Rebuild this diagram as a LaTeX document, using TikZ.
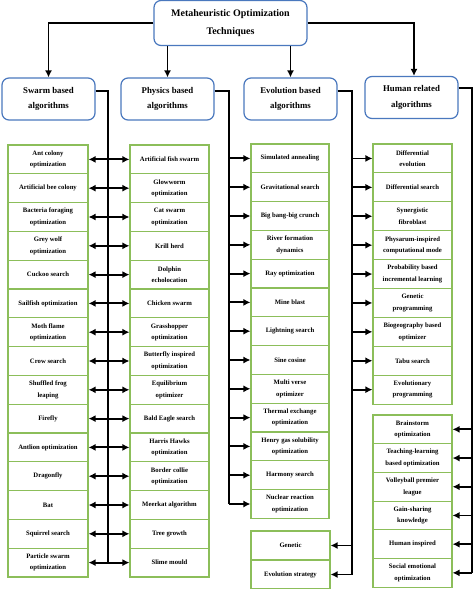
\documentclass[tikz,border=0pt]{standalone}
\usepackage{fontspec}
\setmainfont{Liberation Serif}
\usetikzlibrary{arrows.meta,calc}
\definecolor{catblue}{RGB}{74,120,190}
\definecolor{itemgreen}{RGB}{140,190,90}
\tikzset{
  catbox/.style={draw=catblue, line width=1.2pt, rounded corners=7pt, fill=white,
    minimum width=93pt, minimum height=42pt, align=center, inner sep=0pt,
    font=\fontsize{8.8}{15.5}\selectfont\bfseries},
  topbox/.style={draw=catblue, line width=1.2pt, rounded corners=7pt, fill=white,
    minimum width=153pt, minimum height=45pt, align=center, inner sep=0pt,
    font=\fontsize{10}{18}\selectfont\bfseries},
  itembox/.style={draw=itemgreen, line width=1.1pt, fill=white,
    minimum width=80pt, minimum height=28.8pt, align=center, inner sep=0pt,
    font=\fontsize{6.7}{11.5}\selectfont\bfseries},
  link/.style={line width=1.9pt, black},
  arr/.style={link, -{Latex[length=7pt,width=7pt]}},
  dbl/.style={link, {Latex[length=7pt,width=7pt]}-{Latex[length=7pt,width=7pt]}},
}
\begin{document}
\begin{tikzpicture}[x=1pt,y=-1pt]
\useasboundingbox (0,0) rectangle (474,589);
\fill[white] (0,0) rectangle (474,589);

% top and category boxes
\node[topbox] (top) at (230.5,23) {Metaheuristic Optimization\\Techniques};
\node[catbox] (sw) at (48.5,99) {Swarm based\\algorithms};
\node[catbox] (ph) at (167.5,99) {Physics based\\algorithms};
\node[catbox] (ev) at (290.5,99) {Evolution based\\algorithms};
\node[catbox] (hu) at (411.5,97.5) {Human related\\algorithms};

% swarm column
\foreach \t [count=\i] in {{Ant colony\\optimization},{Artificial bee colony},{Bacteria foraging\\optimization},{Grey wolf\\optimization},{Cuckoo search},{Sailfish optimization},{Moth flame\\optimization},{Crow search},{Shuffled frog\\leaping},{Firefly},{Antlion optimization},{Dragonfly},{Bat},{Squirrel search},{Particle swarm\\optimization}}
  \node[itembox] (s\i) at (48,{159.4+(\i-1)*28.8}) {\t};

% physics column
\foreach \t [count=\i] in {{Artificial fish swarm},{Glowworm\\optimization},{Cat swarm\\optimization},{Krill herd},{Dolphin\\echolocation},{Chicken swarm},{Grasshopper\\optimization},{Butterfly inspired\\optimization},{Equilibrium\\optimizer},{Bald Eagle search},{Harris Hawks\\optimization},{Border collie\\optimization},{Meerkat algorithm},{Tree growth},{Slime mould}}
  \node[itembox, minimum width=79pt] (p\i) at (169.5,{159.4+(\i-1)*28.8}) {\t};

% evolution column (physics-fed)
\foreach \t [count=\i] in {{Simulated annealing},{Gravitational search},{Big bang-big crunch},{River formation\\dynamics},{Ray optimization},{Mine blast},{Lightning search},{Sine cosine},{Multi verse\\optimizer},{Thermal exchange\\optimization},{Henry gas solubility\\optimization},{Harmony search},{Nuclear reaction\\optimization}}
  \node[itembox, minimum width=78pt] (e\i) at (290,{158.4+(\i-1)*28.8}) {\t};

% genetic / evolution strategy
\node[itembox, minimum width=79pt, minimum height=29pt] (g1) at (290.5,545.5) {Genetic};
\node[itembox, minimum width=79pt, minimum height=29pt] (g2) at (290.5,574.5) {Evolution strategy};

% human top column
\foreach \t [count=\i] in {{Differential\\evolution},{Differential search},{Synergistic\\fibroblast},{Physarum-inspired\\computational mode},{Probability based\\incremental learning},{Genetic\\programming},{Biogeography based\\optimizer},{Tabu search},{Evolutionary\\programming}}
  \node[itembox, minimum width=79pt, minimum height=28.9pt] (h\i) at (412.5,{158.45+(\i-1)*28.9}) {\t};

% human bottom column
\foreach \t [count=\i] in {{Brainstorm\\optimization},{Teaching-learning\\based optimization},{Volleyball premier\\league},{Gain-sharing\\knowledge},{Human inspired},{Social emotional\\optimization}}
  \node[itembox, minimum width=79pt, minimum height=28.7pt] (b\i) at (412.5,{429.35+(\i-1)*28.7}) {\t};

% top arrows
\draw[arr] (top.west) -| (sw.north);
\draw[arr] (top.south -| ph.north) -- (ph.north);
\draw[arr] (top.south -| ev.north) -- (ev.north);
\draw[arr] (top.east) -| ([xshift=2.5pt]hu.north);

% swarm trunk
\coordinate (st) at (108,91);
\draw[link] (sw.east |- st) -- (st) -- (st |- s15.east);
\foreach \i in {1,...,15} \draw[dbl] (s\i.east) -- (p\i.west);

% physics trunk
\coordinate (pt) at (229,91);
\draw[link] (ph.east |- pt) -- (pt) -- (pt |- e13.west);
\foreach \i in {1,...,13} \draw[arr] (pt |- e\i.west) -- (e\i.west);

% evolution trunk
\coordinate (et) at (352,91);
\draw[link] (ev.east |- et) -- (et) -- (et |- g2.east);
\foreach \i in {1,...,9} \draw[arr] (et |- h\i.west) -- (h\i.west);
\draw[arr] (et |- g1.east) -- (g1.east);
\draw[arr] (et |- g2.east) -- (g2.east);

% human trunk
\coordinate (ht) at (472,88);
\draw[link] (hu.east |- ht) -- (ht) -- (ht |- b6.east);
\foreach \i in {1,...,6} \draw[arr] (ht |- b\i.east) -- (b\i.east);
\end{tikzpicture}
\end{document}
